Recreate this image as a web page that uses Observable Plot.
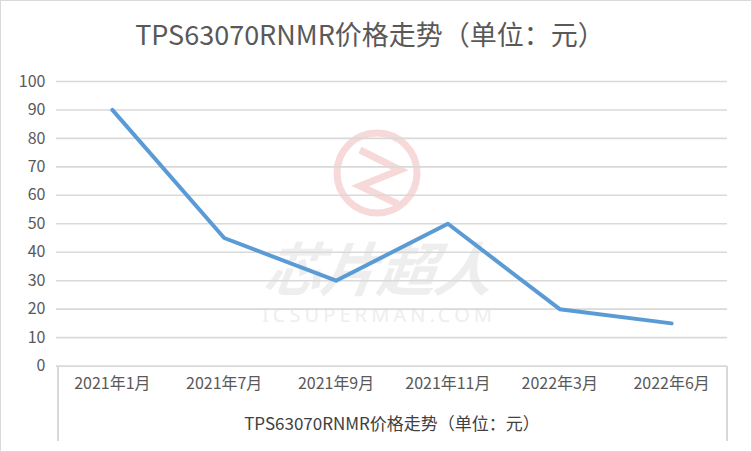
<!DOCTYPE html>
<html><head><meta charset="utf-8">
<script src="https://cdn.jsdelivr.net/npm/d3@7"></script>
<script src="https://cdn.jsdelivr.net/npm/@observablehq/plot@0.6"></script>
<style>
body{margin:0;background:#fff;}
#wrap{position:relative;width:750px;height:450px;border:1px solid #d9d9d9;overflow:hidden;font-family:"Noto Sans CJK SC","Noto Sans",sans-serif;color:#595959;}
#title{position:absolute;left:0;top:15px;width:738px;text-align:center;font-size:27px;line-height:36px;color:#595959;}
#chart{position:absolute;left:-1px;top:55px;}
.vline{position:absolute;width:2px;background:#d9d9d9;}
#xtitle{position:absolute;left:56px;width:670px;top:410px;text-align:center;font-size:17px;line-height:24px;color:#404040;}
#wm{position:absolute;left:-1px;top:-1px;}
</style></head>
<body>
<div id="wrap">
<svg id="wm" width="752" height="452">
  <circle cx="377" cy="173" r="40" fill="none" stroke="#f7d9d9" stroke-width="7"/>
  <path d="M360,150 L400,170 L360,186 L398,204" fill="none" stroke="#f7d9d9" stroke-width="7" stroke-linejoin="miter"/>
  <text x="377" y="291" text-anchor="middle" font-family="Noto Sans CJK SC" font-weight="bold" font-style="italic" font-size="58" fill="#eeeeee" textLength="228" transform="skewX(-8) translate(40,0)">芯片超人</text>
  <text x="377" y="322" text-anchor="middle" font-family="Noto Sans" font-size="20" fill="#eeeeee" textLength="230" lengthAdjust="spacing">ICSUPERMAN.COM</text>
</svg>
<div id="title">TPS63070RNMR价格走势（单位：元）</div>
<div id="chart"></div>
<div class="vline" style="left:56px;top:365px;height:75px;"></div>
<div class="vline" style="left:725px;top:365px;height:75px;"></div>
<div id="xtitle">TPS63070RNMR价格走势（单位：元）</div>
</div>
<script>
const months = ["2021年1月","2021年7月","2021年9月","2021年11月","2022年3月","2022年6月"];
const prices = [90, 45, 30, 50, 20, 15];
const yTicks = [0,10,20,30,40,50,60,70,80,90,100];

const data = months.map((m,i)=>({month:m, price:prices[i]}));

const plot = Plot.plot({
  width: 752,
  height: 392,
  marginTop: 25,
  marginBottom: 82,
  marginLeft: 56,
  marginRight: 24,
  style: {fontFamily: '"Noto Sans CJK SC","Noto Sans",sans-serif', color: "#595959", background: "transparent"},
  x: {type: "point", domain: months, padding: 0.5, label: null},
  y: {domain: [0, 100], label: null},
  marks: [
    Plot.ruleY(yTicks, {stroke: "#d9d9d9", strokeWidth: 1.6}),
    Plot.axisY({ticks: yTicks, tickSize: 0, tickPadding: 11, fontSize: 16, label: null, fill: "#595959"}),
    Plot.axisX({tickSize: 0, tickPadding: 12, fontSize: 16, label: null, fill: "#595959"}),
    Plot.line(data, {x: "month", y: "price", stroke: "#5b9bd5", strokeWidth: 4, strokeLinecap: "round", strokeLinejoin: "round"})
  ]
});
document.getElementById("chart").appendChild(plot);
</script>
</body></html>
